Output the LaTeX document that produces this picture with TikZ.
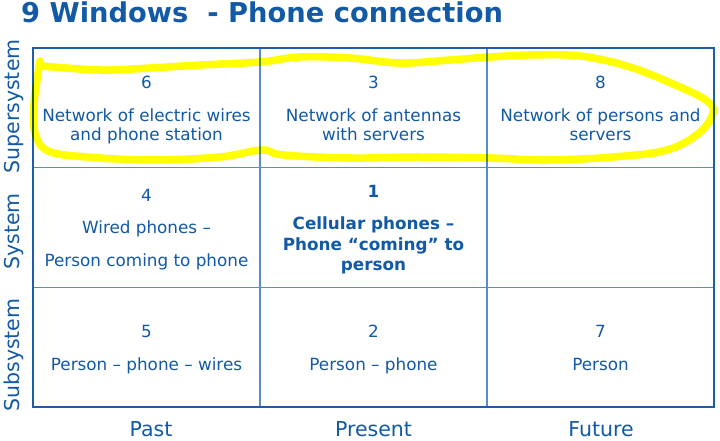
\documentclass[tikz,border=0pt]{standalone}
\usepackage{fontspec}
\setmainfont{DejaVu Sans}
\definecolor{txtblue}{HTML}{1259A6}
\definecolor{gridblue}{HTML}{5A8DC8}
\definecolor{frameblue}{HTML}{1E5EA8}
\definecolor{hilite}{HTML}{FFFF00}
\begin{document}
\begin{tikzpicture}[x=1bp,y=-1bp,
  celltxt/.style={anchor=base, inner sep=0, text=txtblue, font=\fontsize{16.8bp}{20bp}\selectfont},
  cellbold/.style={anchor=base, inner sep=0, text=txtblue, font=\fontsize{16.8bp}{20bp}\selectfont\bfseries},
  axislabel/.style={anchor=base, inner sep=0, text=txtblue, font=\fontsize{20.5bp}{24bp}\selectfont},
  gridline/.style={draw=gridblue, line width=1.3bp},
  frameline/.style={draw=frameblue, line width=2.4bp},
  highlight/.style={draw=hilite, line width=7.5bp, line cap=round, line join=round, blend mode=multiply}]
\useasboundingbox (0,0) rectangle (720,441);
\fill[white] (0,0) rectangle (720,441);
% title
\node[anchor=base west, inner sep=0, text=txtblue, font=\fontsize{27.3bp}{32bp}\selectfont\bfseries] (title) at (21,23) {9 Windows\ \ - Phone connection};
% grid
\draw[gridline] (260,48) -- (260,407) (487,48) -- (487,407) (33,167.3) -- (714,167.3) (33,287.3) -- (714,287.3);
\draw[frameline] (33,48) rectangle (714,407);
% row labels
\node[axislabel, rotate=90] (lsup) at (19,106.5) {Supersystem};
\node[axislabel, rotate=90] (lsys) at (19,231.5) {System};
\node[axislabel, rotate=90] (lsub) at (19,355) {Subsystem};
% column labels
\node[axislabel] (lpast) at (151,436) {Past};
\node[axislabel] (lpres) at (373.5,436) {Present};
\node[axislabel] (lfut) at (601,436) {Future};
% row 1
\node[celltxt] (n6) at (146.5,88.3) {6};
\node[celltxt] (t6a) at (146.5,121.5) {Network of electric wires};
\node[celltxt] (t6b) at (146.5,141) {and phone station};
\node[celltxt] (n3) at (373.5,88.3) {3};
\node[celltxt] (t3a) at (373.5,121.5) {Network of antennas};
\node[celltxt] (t3b) at (373.5,141) {with servers};
\node[celltxt] (n8) at (600.5,88.3) {8};
\node[celltxt] (t8a) at (600.5,121.5) {Network of persons and};
\node[celltxt] (t8b) at (600.5,141) {servers};
% row 2
\node[celltxt] (n4) at (146.5,201.7) {4};
\node[celltxt] (t4a) at (146.5,234) {Wired phones –};
\node[celltxt] (t4b) at (146.5,266.7) {Person coming to phone};
\node[cellbold] (n1) at (373.5,198) {1};
\node[cellbold] (t1a) at (373.5,230) {Cellular phones –};
\node[cellbold] (t1b) at (373.5,250.7) {Phone “coming” to};
\node[cellbold] (t1c) at (373.5,270.7) {person};
% row 3
\node[celltxt] (n5) at (146.5,338) {5};
\node[celltxt] (t5) at (146.5,370) {Person – phone – wires};
\node[celltxt] (n2) at (373.5,338) {2};
\node[celltxt] (t2) at (373.5,370) {Person – phone};
\node[celltxt] (n7) at (600.5,338) {7};
\node[celltxt] (t7) at (600.5,370) {Person};
% highlighter loop
\draw[highlight] plot[smooth, tension=0.6] coordinates {
 (42,66) (100,70) (150,68) (200,65) (260,62) (300,57) (350,58) (400,63) (450,60)
 (490,57) (530,55) (580,56) (630,67) (680,87) (707,101) (713,113) (699,133)
 (667,150) (613,157) (547,160) (490,158) (417,157) (350,158) (283,155) (262,150)
 (220,157) (153,160) (87,157) (48,151) (35,133) (34,105) (37,80) (40,61)};
\end{tikzpicture}
\end{document}
